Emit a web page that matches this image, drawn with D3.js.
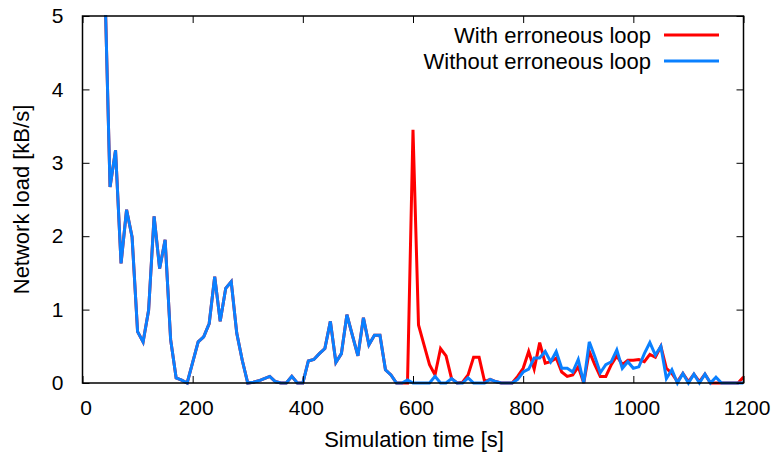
<!DOCTYPE html>
<html>
<head>
<meta charset="utf-8">
<script src="https://cdn.jsdelivr.net/npm/d3@7"></script>
<style>
  body { margin: 0; background: #fff; }
  text { font-family: "Liberation Sans", Arial, sans-serif; fill: #000; }
</style>
</head>
<body>
<div id="chart"></div>
<script>
// simulation time [s]
const times = [
  40, 50, 60, 70, 80, 90, 100, 110, 120, 130, 140, 150, 160, 170, 180, 190,
  200, 210, 220, 230, 240, 250, 260, 270, 280, 290, 300, 310, 320, 330, 340, 350,
  360, 370, 380, 390, 400, 410, 420, 430, 440, 450, 460, 470, 480, 490, 500, 510,
  520, 530, 540, 550, 560, 570, 580, 590, 600, 610, 620, 630, 640, 650, 660, 670,
  680, 690, 700, 710, 720, 730, 740, 750, 760, 770, 780, 790, 800, 810, 820, 830,
  840, 850, 860, 870, 880, 890, 900, 910, 920, 930, 940, 950, 960, 970, 980, 990,
  1000, 1010, 1020, 1030, 1040, 1050, 1060, 1070, 1080, 1090, 1100, 1110, 1120, 1130, 1140, 1150,
  1160, 1170, 1180, 1190, 1200
]

// network load [kB/s]
const withLoop = [
  5.6, 2.67, 3.17, 1.63, 2.36, 1.99, 0.70, 0.56, 0.99, 2.27, 1.56, 1.95, 0.59, 0.07, 0.04, 0,
  0.28, 0.56, 0.63, 0.81, 1.45, 0.84, 1.29, 1.38, 0.68, 0.31, 0, 0.01, 0.03, 0.06, 0.09, 0.02,
  0, 0, 0.09, 0, 0, 0.30, 0.32, 0.40, 0.47, 0.84, 0.28, 0.40, 0.93, 0.65, 0.37, 0.89,
  0.52, 0.65, 0.65, 0.18, 0.11, 0, 0, 0, 3.45, 0.79, 0.52, 0.25, 0.11, 0.47, 0.37, 0.06,
  0, 0.01, 0.11, 0.35, 0.35, 0.02, 0.05, 0.02, 0, 0, 0, 0.09, 0.20, 0.43, 0.19, 0.55,
  0.27, 0.29, 0.34, 0.15, 0.09, 0.11, 0.22, 0, 0.43, 0.25, 0.09, 0.09, 0.25, 0.37, 0.25, 0.31,
  0.31, 0.32, 0.29, 0.39, 0.35, 0.50, 0.20, 0.13, 0.02, 0.13, 0.02, 0.12, 0.02, 0.12, 0, 0,
  0, 0, 0, 0, 0.08
]

const withoutLoop = [
  5.6, 2.67, 3.17, 1.63, 2.36, 1.99, 0.70, 0.56, 0.99, 2.27, 1.56, 1.95, 0.59, 0.07, 0.04, 0,
  0.28, 0.56, 0.63, 0.81, 1.45, 0.84, 1.29, 1.38, 0.68, 0.31, 0, 0.01, 0.03, 0.06, 0.09, 0.02,
  0, 0, 0.09, 0, 0, 0.30, 0.32, 0.40, 0.47, 0.84, 0.28, 0.40, 0.93, 0.65, 0.37, 0.89,
  0.52, 0.65, 0.65, 0.18, 0.11, 0, 0, 0.04, 0, 0, 0, 0, 0.09, 0, 0, 0.06,
  0, 0, 0.07, 0, 0, 0, 0.05, 0.02, 0, 0, 0, 0.05, 0.15, 0.19, 0.34, 0.34,
  0.43, 0.29, 0.43, 0.20, 0.20, 0.15, 0.32, 0, 0.56, 0.36, 0.14, 0.25, 0.29, 0.45, 0.20, 0.29,
  0.20, 0.22, 0.40, 0.55, 0.38, 0.50, 0.06, 0.18, 0, 0.13, 0, 0.12, 0, 0.12, 0, 0.08,
  0, 0, 0, 0, 0
]

const xTicks = [0, 200, 400, 600, 800, 1000, 1200]
const yTicks = [0, 1, 2, 3, 4, 5]

const seriesNames = ["With erroneous loop", "Without erroneous loop"]
const seriesColors = ["#ff0000", "#0a80ff"]

function drawChart() {
  const width = 773
  const height = 461
  const margin = { top: 16, right: 29.5, bottom: 78, left: 82.5 }
  const boundedWidth = width - margin.left - margin.right
  const boundedHeight = height - margin.top - margin.bottom
  const tickFont = "21px"
  const labelFont = "22px"

  const svg = d3.select("#chart")
    .append("svg")
      .attr("width", width)
      .attr("height", height)

  const bounds = svg.append("g")
    .attr("transform", `translate(${margin.left},${margin.top})`)

  svg.append("defs").append("clipPath")
      .attr("id", "plot-clip")
    .append("rect")
      .attr("x", 0)
      .attr("y", -1)
      .attr("width", boundedWidth)
      .attr("height", boundedHeight + 6)

  const xScale = d3.scaleLinear()
    .domain([0, 1200])
    .range([0, boundedWidth])

  const yScale = d3.scaleLinear()
    .domain([0, 5])
    .range([boundedHeight, 0])

  // data lines, red first so blue sits on top
  const series = [withLoop, withoutLoop]
  const lineGenerator = d3.line()
    .x((d, i) => xScale(times[i]))
    .y(d => yScale(d))

  const lines = bounds.append("g").attr("clip-path", "url(#plot-clip)")
  series.forEach((values, k) => {
    lines.append("path")
      .attr("d", lineGenerator(values))
      .attr("fill", "none")
      .attr("stroke", seriesColors[k])
      .attr("stroke-width", 3)
      .attr("stroke-linejoin", "miter")
  })

  // axes with inward ticks on all four sides
  const tickLen = 7
  const xAxisBottom = d3.axisBottom(xScale).tickValues(xTicks).tickSize(-tickLen)
    .tickPadding(tickLen + 10).tickFormat(d3.format("d"))
  const xAxisTop = d3.axisTop(xScale).tickValues(xTicks).tickSize(-tickLen).tickFormat("")
  const yAxisLeft = d3.axisLeft(yScale).tickValues(yTicks).tickSize(-tickLen)
    .tickPadding(tickLen + 12).tickFormat(d3.format("d"))
  const yAxisRight = d3.axisRight(yScale).tickValues(yTicks).tickSize(-tickLen).tickFormat("")

  const styleAxis = g => {
    g.select(".domain").remove()
    g.selectAll(".tick line").attr("stroke", "#000").attr("stroke-width", 1)
    g.selectAll(".tick text")
      .style("font-family", "'Liberation Sans', Arial, sans-serif")
      .style("font-size", tickFont)
      .attr("fill", "#000")
  }

  bounds.append("g")
    .attr("transform", `translate(0,${boundedHeight})`)
    .call(xAxisBottom)
    .call(styleAxis)
    .call(g => g.selectAll(".tick text").attr("dx", 3))
  bounds.append("g").call(xAxisTop).call(styleAxis)
  bounds.append("g").call(yAxisLeft).call(styleAxis)
  bounds.append("g")
    .attr("transform", `translate(${boundedWidth},0)`)
    .call(yAxisRight)
    .call(styleAxis)

  // frame
  bounds.append("rect")
    .attr("x", 0)
    .attr("y", 0)
    .attr("width", boundedWidth)
    .attr("height", boundedHeight)
    .attr("fill", "none")
    .attr("stroke", "#000")
    .attr("stroke-width", 1.5)

  // axis titles
  svg.append("text")
    .attr("x", margin.left + boundedWidth / 2 + 1)
    .attr("y", 447)
    .attr("text-anchor", "middle")
    .style("font-size", labelFont)
    .text("Simulation time [s]")

  svg.append("text")
    .attr("transform", `translate(29,${margin.top + boundedHeight / 2}) rotate(-90)`)
    .attr("text-anchor", "middle")
    .style("font-size", labelFont)
    .text("Network load [kB/s]")

  // legend
  const legend = svg.append("g")
  seriesNames.forEach((name, k) => {
    const y = 35 + k * 26
    legend.append("text")
      .attr("x", 651)
      .attr("y", y + 7.5)
      .attr("text-anchor", "end")
      .style("font-size", labelFont)
      .text(name)
    legend.append("line")
      .attr("x1", 664)
      .attr("x2", 719)
      .attr("y1", y)
      .attr("y2", y)
      .attr("stroke", seriesColors[k])
      .attr("stroke-width", 3)
  })
}

drawChart()
</script>
</body>
</html>
